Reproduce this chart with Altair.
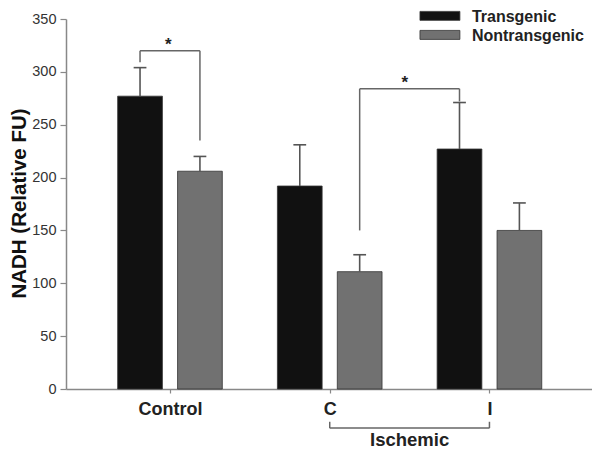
import altair as alt
import pandas as pd

# ---- data ----
groups = ["Control", "C", "I"]
series = ["Transgenic", "Nontransgenic"]
transgenic_mean = [277, 192, 227]
transgenic_err = [27, 39, 44]
nontransgenic_mean = [206, 111, 150]
nontransgenic_err = [14, 16, 26]
y_ticks = [0, 50, 100, 150, 200, 250, 300, 350]

FONT = "Liberation Sans"
BAR_FILL = ["#111111", "#717171"]

# layout constants (x in group units, 1 unit ~ 160 px)
offsets = {"Transgenic": -0.1875, "Nontransgenic": 0.1875}
half_w = 0.14
cap_half = 0.04

rows = []
for i, g in enumerate(groups):
    for s, means, errs in [("Transgenic", transgenic_mean, transgenic_err),
                           ("Nontransgenic", nontransgenic_mean, nontransgenic_err)]:
        c = i + offsets[s]
        rows.append(dict(group=g, series=s, center=c, x0=c - half_w, x1=c + half_w,
                         mean=means[i], top=means[i] + errs[i], zero=0,
                         c0=c - cap_half, c1=c + cap_half))
df = pd.DataFrame(rows)

color_scale = alt.Scale(domain=series, range=BAR_FILL)
xs = alt.Scale(domain=[-0.651, 2.642], nice=False, zero=False)
ys = alt.Scale(domain=[0, 350], nice=False)

x_axis = alt.Axis(values=[0, 1, 2], labelExpr="['Control','C','I'][datum.value]",
                  title=None, grid=False, domainColor="#888", domainWidth=1.5,
                  tickColor="#888", tickSize=4, tickWidth=1.2, labelFont=FONT,
                  labelFontSize=18, labelFontWeight="bold", labelColor="#222",
                  labelPadding=7)
y_axis = alt.Axis(values=y_ticks, title="NADH (Relative FU)", grid=False,
                  domainColor="#888", domainWidth=1.5, tickColor="#888", tickSize=6,
                  tickWidth=1.2, labelFont=FONT, labelFontSize=14.5, labelColor="#333",
                  labelPadding=4, titleFont=FONT, titleFontSize=20.5,
                  titleFontWeight="bold", titleColor="#111",
                  titleX=-37, titleY=184, titleAngle=270, titleAlign="center",
                  titleBaseline="bottom")

bars = alt.Chart(df).mark_bar(stroke="#333", strokeWidth=0.8).encode(
    x=alt.X("x0:Q", scale=xs, axis=x_axis),
    x2="x1:Q",
    y=alt.Y("mean:Q", scale=ys, axis=y_axis),
    y2="zero:Q",
    color=alt.Color("series:N", scale=color_scale, legend=None),
)

err = alt.Chart(df).mark_rule(color="#555", strokeWidth=1.6).encode(
    x="center:Q", y="mean:Q", y2="top:Q")
caps = alt.Chart(df).mark_rule(color="#555", strokeWidth=1.6).encode(
    x="c0:Q", x2="c1:Q", y="top:Q")

# significance brackets (segments: x, x2, y, y2)
seg = pd.DataFrame([
    # Control transgenic vs nontransgenic
    dict(x=-0.1875, x2=0.1875, y=320, y2=320),
    dict(x=-0.1875, x2=-0.1875, y=320, y2=309),
    dict(x=0.1875, x2=0.1875, y=320, y2=235),
    # C nontransgenic vs I transgenic
    dict(x=1.1875, x2=1.8125, y=284, y2=284),
    dict(x=1.1875, x2=1.1875, y=284, y2=150),
    dict(x=1.8125, x2=1.8125, y=284, y2=272),
    # Ischemic bracket under the axis
    dict(x=1.0, x2=2.0, y=-37, y2=-37),
    dict(x=1.0, x2=1.0, y=-37, y2=-31),
    dict(x=2.0, x2=2.0, y=-37, y2=-31),
])
brackets = alt.Chart(seg).mark_rule(color="#666", strokeWidth=1.5).encode(
    x="x:Q", x2="x2:Q", y="y:Q", y2="y2:Q")

stars = pd.DataFrame([dict(x=-0.01, y=325, t="*"), dict(x=1.47, y=289, t="*")])
star_text = alt.Chart(stars).mark_text(font=FONT, fontSize=17, fontWeight="bold",
                                       color="#222", baseline="middle").encode(
    x="x:Q", y="y:Q", text="t:N")

isch = pd.DataFrame([dict(x=1.5, y=-48.5, t="Ischemic")])
isch_text = alt.Chart(isch).mark_text(font=FONT, fontSize=18.5, fontWeight="bold",
                                      color="#222", baseline="middle").encode(
    x="x:Q", y="y:Q", text="t:N")

# manual legend at top right
leg = pd.DataFrame([
    dict(series="Transgenic", x0=1.565, x1=1.815, ya=357.2, yb=348.7, tx=1.89, ty=352.2),
    dict(series="Nontransgenic", x0=1.565, x1=1.815, ya=339.2, yb=330.7, tx=1.89, ty=334.3),
])
leg_rect = alt.Chart(leg).mark_rect(stroke="#333", strokeWidth=0.8).encode(
    x="x0:Q", x2="x1:Q", y="ya:Q", y2="yb:Q",
    color=alt.Color("series:N", scale=color_scale, legend=None))
leg_text = alt.Chart(leg).mark_text(font=FONT, fontSize=16, fontWeight="bold",
                                    color="#222", align="left", baseline="middle").encode(
    x="tx:Q", y="ty:Q", text="series:N")

chart = alt.layer(bars, err, caps, brackets, star_text, isch_text, leg_rect, leg_text).properties(
    width=526, height=370,
    autosize=alt.AutoSizeParams(type="none"),
    padding={"left": 58, "top": 11, "right": 0, "bottom": 60},
).configure_view(stroke=None)

chart.save("out.html", embed_options={"renderer": "svg", "actions": False})
